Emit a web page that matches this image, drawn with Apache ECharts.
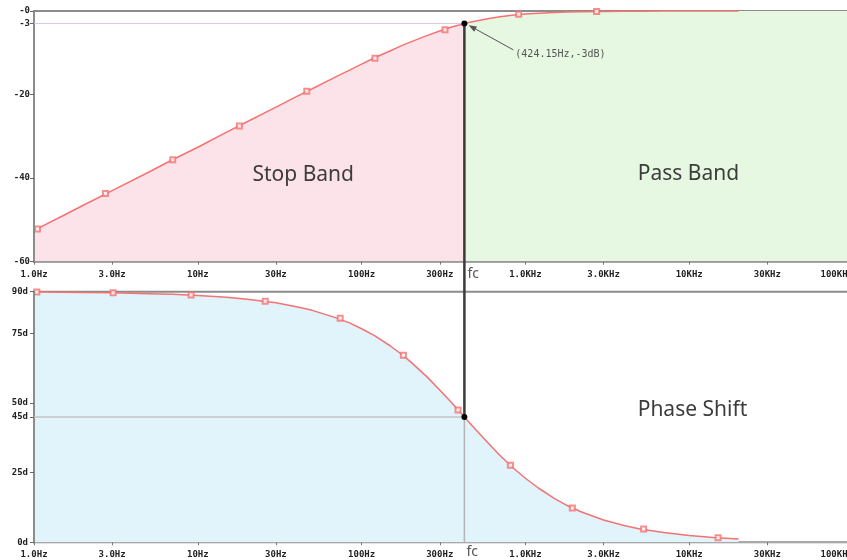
<!DOCTYPE html>
<html><head><meta charset="utf-8">
<script src="https://cdn.jsdelivr.net/npm/echarts@6/dist/echarts.min.js"></script>
<style>html,body{margin:0;padding:0;background:#fff}#main{width:847px;height:560px}</style>
</head><body><div id="main"></div>
<script>
// ---- data ----
const FC = 424.15;
const freqs = [1, 1.5, 2, 3, 5, 7, 10, 15, 20, 30, 40, 50, 70, 85, 100, 120, 150, 180, 200, 250, 300, 350, 400, 424.15, 450, 500, 600, 700, 850, 1000, 1200, 1500, 1800, 2200, 3000, 4000, 5000, 7000, 10000, 14000, 20000];
const magDb = [-52.5, -49.0, -46.5, -43.0, -38.6, -35.6, -32.6, -29.0, -26.5, -23.0, -20.5, -18.6, -15.7, -14.1, -12.7, -11.2, -9.5, -8.1, -7.4, -5.9, -4.8, -3.9, -3.3, -3.0, -2.75, -2.4, -1.8, -1.4, -0.97, -0.72, -0.52, -0.34, -0.24, -0.16, -0.09, -0.05, -0.03, -0.02, -0.01, 0, 0];
const phaseDeg = [89.9, 89.8, 89.7, 89.6, 89.3, 89.1, 88.6, 88.0, 87.3, 86.0, 84.6, 83.3, 80.6, 78.7, 76.7, 74.2, 70.5, 67.0, 64.7, 59.5, 54.7, 50.5, 46.7, 45.0, 43.3, 40.3, 35.3, 31.2, 26.5, 23.0, 19.5, 15.8, 13.2, 10.9, 8.0, 6.0, 4.8, 3.5, 2.4, 1.7, 1.2];
const magMarkFreq = [1.05, 2.73, 7.03, 17.95, 46.3, 120.6, 323, 910, 2720];
const magMarkDb = [-52.2, -43.7, -35.6, -27.5, -19.2, -11.3, -4.5, -0.8, -0.1];
const phaseMarkFreq = [1.04, 3.04, 9.1, 25.8, 74, 180, 388, 810, 1935, 5270, 15000];
const phaseMarkDeg = [89.9, 89.6, 88.8, 86.6, 80.5, 67.2, 47.5, 27.7, 12.3, 4.8, 1.6];
const passExtendFreq = [20000, 100000];
const passExtendDb = [0, 0];
const xTickFreqs = [1, 3, 10, 30, 100, 300, 1000, 3000, 10000, 30000, 100000];
const xTickLabels = ['1.0Hz', '3.0Hz', '10Hz', '30Hz', '100Hz', '300Hz', '1.0KHz', '3.0KHz', '10KHz', '30KHz', '100KHz'];
const magTicks = [0, -3, -20, -40, -60];
const magTickLabels = ['-0', '-3', '-20', '-40', '-60'];
const phaseTicks = [90, 75, 50, 45, 25, 0];
const phaseTickLabels = ['90d', '75d', '50d', '45d', '25d', '0d'];
const annotationText = '(424.15Hz,-3dB)';

// ---- build ----
const L = Math.log10;
const lfc = L(FC);
const xTickVals = xTickFreqs.map(L);
const magAll = freqs.map((f, i) => [L(f), magDb[i]]);
const stopData = magAll.filter(d => d[0] <= lfc + 1e-9);
const passData = magAll.filter(d => d[0] >= lfc - 1e-9).concat(passExtendFreq.map((f, i) => [L(f), passExtendDb[i]]).slice(1));
const phaseAll = freqs.map((f, i) => [L(f), phaseDeg[i]]);
const magMarks = magMarkFreq.map((f, i) => [L(f), magMarkDb[i]]);
const phaseMarks = phaseMarkFreq.map((f, i) => [L(f), phaseMarkDeg[i]]);

const RED = '#f47272';
const labelFont = { fontFamily: 'DejaVu Sans Mono', fontWeight: 'bold', fontSize: 9, color: '#222' };
function xLabel(v) {
  let best = 0;
  for (let i = 0; i < xTickVals.length; i++) if (Math.abs(xTickVals[i] - v) < Math.abs(xTickVals[best] - v)) best = i;
  return xTickLabels[best];
}
function mkX(gi, lineColor, tickColor) {
  return {
    type: 'value', gridIndex: gi, min: 0, max: 5, z: 10, position: 'bottom',
    axisLine: { show: true, onZero: false, lineStyle: { color: lineColor, width: 1 } },
    axisTick: { show: true, inside: false, customValues: xTickVals, length: 3, lineStyle: { color: tickColor } },
    axisLabel: Object.assign({ customValues: xTickVals, formatter: xLabel, margin: 8, showMinLabel: true, showMaxLabel: true, hideOverlap: false, alignMaxLabel: 'right' }, labelFont),
    splitLine: { show: false }, minorTick: { show: false }, minorSplitLine: { show: false }
  };
}
function mkY(gi, min, max, ticks, labels, margin) {
  return {
    type: 'value', gridIndex: gi, min: min, max: max, z: 10, position: 'left',
    axisLine: { show: true, onZero: false, lineStyle: { color: '#8c8c8c', width: 2 } },
    axisTick: { show: true, customValues: ticks, length: 4, lineStyle: { color: '#666' } },
    axisLabel: Object.assign({ customValues: ticks, margin: margin, showMinLabel: true, showMaxLabel: true, hideOverlap: false,
      formatter: v => { const i = ticks.findIndex(t => Math.abs(t - v) < 1e-6); return i >= 0 ? labels[i] : ''; } }, labelFont),
    splitLine: { show: false }
  };
}

const option = {
  animation: false,
  backgroundColor: '#fff',
  grid: [
    { left: 34, top: 11, width: 819, height: 250.7, containLabel: false, outerBoundsMode: 'none', show: true, borderColor: '#8c8c8c', borderWidth: 2, backgroundColor: 'transparent' },
    { left: 34, top: 291.7, width: 819, height: 250.6, containLabel: false, outerBoundsMode: 'none', show: true, borderColor: '#8c8c8c', borderWidth: 2, backgroundColor: 'transparent' }
  ],
  xAxis: [mkX(0, '#999', '#777'), mkX(1, '#aaa', '#777')],
  yAxis: [mkY(0, -60, 0, magTicks, magTickLabels, 4), mkY(1, 0, 90, phaseTicks, phaseTickLabels, 6)],
  series: [
    { type: 'line', xAxisIndex: 0, yAxisIndex: 0, data: stopData, symbol: 'none', silent: true, z: 1,
      lineStyle: { width: 0, opacity: 0 }, areaStyle: { color: '#fce3ea', opacity: 1, origin: 'start' } },
    { type: 'line', xAxisIndex: 0, yAxisIndex: 0, data: passData, symbol: 'none', silent: true, z: 1,
      lineStyle: { width: 0, opacity: 0 }, areaStyle: { color: '#e7f8e2', opacity: 1, origin: 'start' } },
    { type: 'line', xAxisIndex: 0, yAxisIndex: 0, data: magAll, symbol: 'none', silent: true, z: 3,
      lineStyle: { color: RED, width: 1.5 } },
    { type: 'scatter', xAxisIndex: 0, yAxisIndex: 0, data: magMarks, symbol: 'emptyRect', symbolSize: 5, silent: true, z: 4,
      itemStyle: { color: RED, borderColor: RED, borderWidth: 1 } },
    { type: 'line', xAxisIndex: 1, yAxisIndex: 1, data: phaseAll, symbol: 'none', silent: true, z: 3,
      lineStyle: { color: RED, width: 1.5 }, areaStyle: { color: '#e1f3fb', opacity: 1, origin: 'start' } },
    { type: 'scatter', xAxisIndex: 1, yAxisIndex: 1, data: phaseMarks, symbol: 'emptyRect', symbolSize: 5, silent: true, z: 4,
      itemStyle: { color: RED, borderColor: RED, borderWidth: 1 } }
  ]
};

const chart = echarts.init(document.getElementById('main'), null, { renderer: 'canvas' });
chart.setOption(option);

const px = (g, f, v) => chart.convertToPixel({ gridIndex: g }, [L(f), v]);
const A = px(0, FC, -3), B = px(1, FC, 45), B0 = px(1, FC, 0);
const L3 = px(0, 1, -3), L45 = px(1, 1, 45);
const topBottom = px(0, FC, -60)[1], botBottom = B0[1];
const T = px(0, 844, -9.3), H = px(0, 450, -3.4);
const dx = H[0] - T[0], dy = H[1] - T[1], len = Math.hypot(dx, dy);
const ux = dx / len, uy = dy / len, nx = -uy, ny = ux;
const ann = px(0, 868, -10.3);
const stopP = px(0, 44, -39.3), passP = px(0, 9890, -39), phaseP = px(1, 10470, 47.5);
const bigFont = '21px "Noto Sans"';

chart.setOption({
  graphic: [
    { type: 'line', z: 100, silent: true, shape: { x1: L3[0], y1: L3[1], x2: A[0], y2: A[1] }, style: { stroke: '#d8c8e6', lineWidth: 1 } },
    { type: 'line', z: 100, silent: true, shape: { x1: L45[0], y1: L45[1], x2: B[0], y2: B[1] }, style: { stroke: '#c4c4c4', lineWidth: 1.5 } },
    { type: 'line', z: 100, silent: true, shape: { x1: B[0], y1: B[1], x2: B0[0], y2: B0[1] }, style: { stroke: '#b4b4b4', lineWidth: 1.5 } },
    { type: 'line', z: 101, silent: true, shape: { x1: A[0], y1: A[1], x2: B[0], y2: B[1] }, style: { stroke: '#3a3a3a', lineWidth: 2.5 } },
    { type: 'circle', z: 102, silent: true, shape: { cx: A[0], cy: A[1], r: 3 }, style: { fill: '#000' } },
    { type: 'circle', z: 102, silent: true, shape: { cx: B[0], cy: B[1], r: 3 }, style: { fill: '#000' } },
    { type: 'line', z: 102, silent: true, shape: { x1: T[0], y1: T[1], x2: H[0] - ux * 5, y2: H[1] - uy * 5 }, style: { stroke: '#555', lineWidth: 1 } },
    { type: 'polygon', z: 102, silent: true, shape: { points: [[H[0], H[1]], [H[0] - ux * 8 + nx * 3, H[1] - uy * 8 + ny * 3], [H[0] - ux * 8 - nx * 3, H[1] - uy * 8 - ny * 3]] }, style: { fill: '#555' } },
    { type: 'text', z: 102, silent: true, style: { text: annotationText, x: ann[0], y: ann[1], align: 'left', verticalAlign: 'middle', font: '10px "DejaVu Sans Mono"', fill: '#555' } },
    { type: 'text', z: 102, silent: true, style: { text: 'fc', x: A[0] + 3, y: topBottom + 12, align: 'left', verticalAlign: 'middle', font: '14px "Noto Sans"', fill: '#555' } },
    { type: 'text', z: 102, silent: true, style: { text: 'fc', x: A[0] + 2, y: botBottom + 10, align: 'left', verticalAlign: 'middle', font: '14px "Noto Sans"', fill: '#555' } },
    { type: 'text', z: 102, silent: true, style: { text: 'Stop Band', x: stopP[0], y: stopP[1], align: 'center', verticalAlign: 'middle', font: bigFont, fill: '#3c3c3c' } },
    { type: 'text', z: 102, silent: true, style: { text: 'Pass Band', x: passP[0], y: passP[1], align: 'center', verticalAlign: 'middle', font: bigFont, fill: '#3c3c3c' } },
    { type: 'text', z: 102, silent: true, style: { text: 'Phase Shift', x: phaseP[0], y: phaseP[1], align: 'center', verticalAlign: 'middle', font: bigFont, fill: '#3c3c3c' } }
  ]
});
</script>
</body></html>
